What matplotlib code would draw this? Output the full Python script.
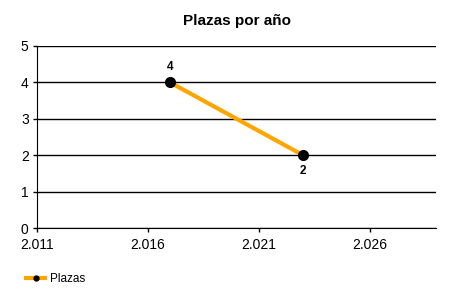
import matplotlib.pyplot as plt
from matplotlib.ticker import FuncFormatter

plt.rcParams['font.family'] = ['Liberation Sans', 'DejaVu Sans']

years = [2017, 2023]
plazas = [4, 2]
x_ticks = [2011, 2016, 2021, 2026]
y_ticks = [0, 1, 2, 3, 4, 5]

fig = plt.figure(figsize=(4.5, 3), dpi=100)
ax = fig.add_axes([0.0822, 0.24, 0.887, 0.6067])

ax.plot(years, plazas, color='#FFA500', linewidth=3, marker='o',
        markersize=7, markerfacecolor='black', markeredgecolor='black',
        label='Plazas', zorder=3)

# etiquetas de valor
ax.annotate(str(plazas[0]), (years[0], plazas[0]), xytext=(0, 7),
            textcoords='offset points', ha='center', va='bottom',
            fontsize=8.5, fontweight='bold')
ax.annotate(str(plazas[1]), (years[1], plazas[1]), xytext=(0, -7),
            textcoords='offset points', ha='center', va='top',
            fontsize=8.5, fontweight='bold')

ax.set_xlim(2011, 2029)
ax.set_ylim(0, 5)
ax.set_xticks(x_ticks)
ax.set_yticks(y_ticks)
ax.xaxis.set_major_formatter(FuncFormatter(lambda v, p: f'{int(v) // 1000}.{int(v) % 1000:03d}'))
ax.yaxis.grid(True, color='black', linewidth=1)
ax.set_axisbelow(True)
ax.tick_params(axis='both', length=3, width=1, labelsize=10)
ax.tick_params(axis='x', pad=4)
ax.tick_params(axis='y', pad=3)
ax.spines['top'].set_visible(False)
ax.spines['right'].set_visible(False)

ax.set_title('Plazas por año', fontsize=11, fontweight='bold', pad=15)

fig.legend(loc='lower left', bbox_to_anchor=(0.035, 0.013), frameon=False,
           fontsize=8.5, handlelength=1.6, handletextpad=0.4, markerscale=0.5)

plt.savefig('out.png', dpi=100)
